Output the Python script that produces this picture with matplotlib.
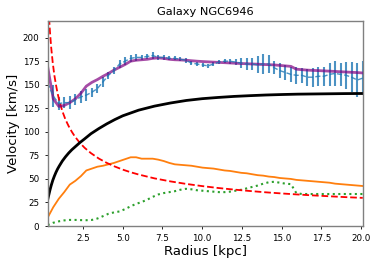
import numpy as np
import matplotlib
matplotlib.use("Agg")
import matplotlib.pyplot as plt

# Rotation curve data
radius = [0.28, 0.63, 0.98, 1.32, 1.67, 2.02, 2.37, 2.71, 3.06, 3.41,
          3.76, 4.10, 4.45, 4.80, 5.15, 5.50, 5.84, 6.19, 6.54, 6.89,
          7.23, 7.58, 7.93, 8.28, 8.62, 8.97, 9.32, 9.67, 10.02, 10.36,
          10.71, 11.06, 11.41, 11.75, 12.10, 12.45, 12.80, 13.14, 13.49, 13.84,
          14.19, 14.53, 14.88, 15.23, 15.58, 15.92, 16.27, 16.62, 16.97, 17.31,
          17.66, 18.01, 18.36, 18.70, 19.05, 19.40, 19.75, 20.10]

v_obs = [152, 138, 130, 131, 131, 134, 137, 139, 142, 146,
         153, 160, 165, 172, 175, 178, 179, 179, 180, 181,
         179, 179, 178, 178, 177, 176, 173, 172, 171, 170,
         172, 174, 175, 175, 174, 173, 172, 172, 171, 172,
         172, 168, 165, 163, 161, 160, 160, 158, 158, 159,
         159, 161, 162, 161, 160, 158, 155, 157]

v_err = [10, 12, 7, 6, 7, 6, 6, 6, 5, 5,
         5, 4, 4, 4, 4, 4, 4, 3, 3, 4,
         3, 2.5, 2, 2, 2, 2.5, 2, 2, 2, 2,
         2, 2, 2, 2.5, 3, 5, 6, 6, 9, 11,
         10, 7, 8, 8, 8, 9, 8, 9, 10, 10,
         10, 12, 13, 12, 14, 16, 18, 18]

v_gas = [1, 3.5, 5, 6, 6.5, 6.5, 6.3, 6.2, 6.5, 8,
         10.5, 13, 14.5, 15.5, 18, 21, 23.5, 25.5, 28, 31,
         33.5, 35, 36, 37, 38.5, 39.5, 39, 38, 37.5, 37,
         36.5, 36, 36, 36.5, 37.5, 38.5, 40, 41.5, 43, 45,
         46.5, 47, 46, 45, 44.5, 35, 34, 34, 34, 34,
         34, 34, 34, 34, 34, 34, 34, 34]

v_disk = [9, 20, 29, 36, 44, 48, 53, 59, 61, 63,
          64, 65.5, 67, 69, 71, 73, 73, 71.5, 71.5, 71.5,
          70.5, 69, 67, 65.5, 65, 64.5, 64, 63, 62, 61.5,
          61, 60, 59, 58.5, 57.5, 56.5, 56, 55, 54, 53.5,
          52.5, 52, 51, 50.5, 50, 49, 48.5, 48, 47.5, 47,
          46.5, 46, 45, 44.5, 44, 43.5, 43, 42.5]

v_total = [169, 135, 127, 128, 131, 135, 141, 148.5, 152.5, 155.5,
           159, 162, 165.5, 168.5, 171.5, 175, 176, 176.5, 177, 178,
           178.5, 178, 177, 176.5, 176.3, 176, 175.5, 175, 174.6, 174.3,
           174, 173.7, 173.4, 173.1, 172.8, 172.5, 172.3, 172, 171.8, 171.5,
           171.3, 171, 170.5, 170, 169.5, 166.5, 166, 165.5, 165.2, 165,
           164.7, 164.4, 164.1, 163.8, 163.5, 163.2, 162.9, 162.5]

# smooth model curves on their own radius grid
model_r = [0.28, 0.35, 0.42, 0.5, 0.6, 0.7, 0.8, 0.9, 1.0, 1.2,
           1.4, 1.6, 1.8, 2.0, 2.3, 2.6, 3.0, 3.5, 4.0, 4.5,
           5.0, 5.5, 6.0, 7.0, 8.0, 9.0, 10.0, 11.0, 12.0, 13.0,
           14.0, 15.0, 16.0, 17.0, 18.0, 19.0, 20.1]

v_bulge = [253, 226, 207, 189.5, 173, 160, 150, 141, 134, 122,
           113, 106, 100, 94.8, 88.4, 83.1, 77.4, 71.6, 67, 63.2,
           59.9, 57.1, 54.7, 50.6, 47.4, 44.7, 42.4, 40.4, 38.7, 37.2,
           35.8, 34.6, 33.5, 32.5, 31.6, 30.7, 29.9]

v_halo = [28, 33, 38, 43, 48.5, 53, 57, 60.5, 63.5, 69,
          73.5, 77.5, 81, 84, 88.5, 92.5, 98, 103.5, 108.5, 113,
          117, 120, 123, 127.3, 130.6, 133.3, 135.2, 136.5, 137.6, 138.4,
          139.1, 139.6, 140, 140.2, 140.4, 140.6, 140.7]

fig = plt.figure(figsize=(3.74, 2.65), dpi=100)
ax = fig.add_axes([0.1275, 0.147, 0.8425, 0.775])

ax.errorbar(radius, v_obs, yerr=v_err, fmt="--", color="tab:blue", lw=1.0,
            elinewidth=1.5, alpha=0.8)
ax.plot(radius, v_gas, ":", color="tab:green", lw=1.5)
ax.plot(radius, v_disk, "-", color="tab:orange", lw=1.3)
ax.plot(model_r, v_bulge, "--", color="red", lw=1.3)
ax.plot(model_r, v_halo, "-", color="black", lw=2)
ax.plot(radius, v_total, "-", color="purple", lw=2, alpha=0.7)

ax.set_xlim(radius[0], radius[-1])
ax.set_ylim(0, 218)
ax.set_xticks([2.5, 5.0, 7.5, 10.0, 12.5, 15.0, 17.5, 20.0])
ax.set_yticks([0, 25, 50, 75, 100, 125, 150, 175, 200])
ax.tick_params(labelsize=6.3, length=2.5, width=0.6)
for s in ax.spines.values():
    s.set_color("gray")
    s.set_linewidth(1.0)

ax.set_title("Galaxy NGC6946", fontsize=8.2, pad=4)
ax.set_xlabel("Radius [kpc]", fontsize=9.5, labelpad=1)
ax.set_ylabel("Velocity [km/s]", fontsize=9.5, labelpad=2)

fig.savefig("out.png", dpi=100)
